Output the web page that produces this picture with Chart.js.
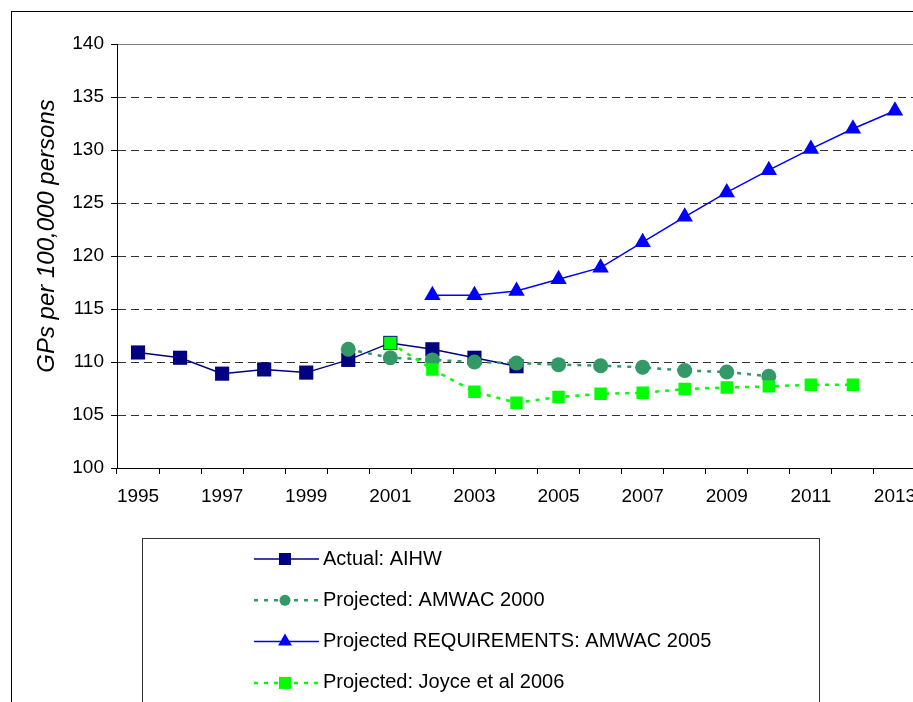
<!DOCTYPE html>
<html>
<head>
<meta charset="utf-8">
<script src="https://cdn.jsdelivr.net/npm/chart.js@4.4.1/dist/chart.umd.min.js"></script>
<style>
    html, body { margin: 0; padding: 0; overflow: hidden; background: #fff; }
    .chart-container { position: relative; width: 940px; height: 702px; }
</style>
</head>
<body>
<div class="chart-container">
    <canvas id="chart" width="940" height="702"></canvas>
</div>
<script>
const years = ['1995', '1996', '1997', '1998', '1999', '2000', '2001', '2002', '2003', '2004',
    '2005', '2006', '2007', '2008', '2009', '2010', '2011', '2012', '2013']

const actual_aihw = [110.9, 110.4, 108.9, 109.3, 109.0, 110.2, 111.8, 111.2, 110.4, 109.6,
    null, null, null, null, null, null, null, null, null]
const amwac_2000 = [null, null, null, null, null, 111.2, 110.4, 110.2, 110.0, 109.9,
    109.75, 109.65, 109.5, 109.2, 109.05, 108.65, null, null, null]
const amwac_2005_requirements = [null, null, null, null, null, null, null, 116.3, 116.3, 116.7,
    117.8, 118.9, 121.3, 123.7, 126.0, 128.1, 130.1, 132.0, 133.7]
const joyce_2006 = [null, null, null, null, null, null, 111.8, 109.3, 107.2, 106.15,
    106.7, 107.0, 107.1, 107.45, 107.6, 107.7, 107.85, 107.85, null]

const y_title = 'GPs per 100,000 persons'

const FONT = '"Liberation Sans", Arial, sans-serif'

// small marker drawer for the legend (same shapes as chart points)
function draw_marker(ctx, style, x, y, r, color) {
    ctx.fillStyle = color
    ctx.beginPath()
    if (style === 'rect') {
        const s = r * Math.SQRT1_2
        ctx.rect(x - s, y - s, 2 * s, 2 * s)
    } else if (style === 'circle') {
        ctx.arc(x, y, r, 0, Math.PI * 2)
    } else if (style === 'triangle') {
        ctx.moveTo(x, y - r)
        ctx.lineTo(x + r * Math.sin(Math.PI / 3), y + r / 2)
        ctx.lineTo(x - r * Math.sin(Math.PI / 3), y + r / 2)
        ctx.closePath()
    }
    ctx.fill()
}

const frame_and_legend = {
    id: 'frame_and_legend',
    beforeDraw(chart) {
        const ctx = chart.ctx
        ctx.save()
        ctx.strokeStyle = '#000'
        ctx.lineWidth = 1
        ctx.strokeRect(11.5, 11.5, 1000, 1000) // outer frame, runs off the page

        // y axis title, sits a bit above the plot middle like the original
        ctx.translate(47, 236)
        ctx.rotate(-Math.PI / 2)
        ctx.fillStyle = '#000'
        ctx.font = 'italic 24px ' + FONT
        ctx.textAlign = 'center'
        ctx.textBaseline = 'middle'
        ctx.fillText(y_title, 0, 0)
        ctx.restore()
    },
    afterDraw(chart) {
        const ctx = chart.ctx
        ctx.save()
        ctx.strokeStyle = '#333'
        ctx.lineWidth = 1
        ctx.strokeRect(142.5, 538.5, 677, 300)

        chart.data.datasets.forEach((ds, i) => {
            const y = 559 + i * 41.3
            ctx.beginPath()
            ctx.setLineDash(ds.borderDash || [])
            ctx.strokeStyle = ds.borderColor
            ctx.lineWidth = ds.borderWidth
            ctx.moveTo(254, y)
            ctx.lineTo(319, y)
            ctx.stroke()
            ctx.setLineDash([])
            draw_marker(ctx, ds.pointStyle, 285, y, ds.legendRadius, ds.pointBackgroundColor)

            ctx.fillStyle = '#000'
            ctx.font = '20px ' + FONT
            ctx.textBaseline = 'middle'
            ctx.textAlign = 'left'
            ctx.fillText(ds.label, 323, y)
        })
        ctx.restore()
    }
}

new Chart(document.getElementById('chart'), {
    type: 'line',
    data: {
        labels: years,
        datasets: [
            {
                label: 'Actual: AIHW',
                data: actual_aihw,
                borderColor: '#000080',
                borderWidth: 1.5,
                pointStyle: 'rect',
                pointRadius: 10,
                pointBorderWidth: 0,
                pointBackgroundColor: '#000080',
                legendRadius: 8.5,
                order: 4,
            },
            {
                label: 'Projected: AMWAC 2000',
                data: amwac_2000,
                borderColor: '#339966',
                borderWidth: 2.5,
                borderDash: [4, 6],
                pointStyle: 'circle',
                pointRadius: 7.5,
                pointBorderWidth: 0,
                pointBackgroundColor: '#339966',
                legendRadius: 5.5,
                order: 3,
            },
            {
                label: 'Projected REQUIREMENTS: AMWAC 2005',
                data: amwac_2005_requirements,
                borderColor: '#0000FF',
                borderWidth: 1.5,
                pointStyle: 'triangle',
                pointRadius: 9.5,
                pointBorderWidth: 0,
                pointBackgroundColor: '#0000FF',
                legendRadius: 8,
                order: 2,
            },
            {
                label: 'Projected: Joyce et al 2006',
                data: joyce_2006,
                borderColor: '#00FF00',
                borderWidth: 2.5,
                borderDash: [4, 6],
                pointStyle: 'rect',
                pointRadius: 8.8,
                pointBorderWidth: 0,
                pointBackgroundColor: '#00FF00',
                legendRadius: 8.5,
                order: 1,
            },
        ]
    },
    options: {
        responsive: false,
        animation: false,
        events: [],
        layout: { padding: { left: 0, top: 44, right: 24, bottom: 0 } },
        plugins: {
            legend: { display: false },
            tooltip: { enabled: false },
        },
        scales: {
            x: {
                offset: true,
                grid: {
                    offset: true,
                    drawOnChartArea: false,
                    drawTicks: true,
                    tickLength: 6,
                    tickColor: '#000',
                },
                border: { display: true, color: '#000', width: 1 },
                ticks: {
                    autoSkip: false,
                    maxRotation: 0,
                    minRotation: 0,
                    padding: 11,
                    color: '#000',
                    font: { family: FONT, size: 19 },
                    callback: (value, index) => index % 2 === 0 ? years[index] : '',
                },
                afterFit: scale => { scale.height = 234 },
            },
            y: {
                min: 100,
                max: 140,
                grid: {
                    drawTicks: true,
                    tickLength: 6,
                    tickColor: '#000',
                    lineWidth: 1,
                    color: ctx => {
                        if (!ctx.tick) return '#000'
                        if (ctx.tick.value === 140) return '#808080'
                        if (ctx.tick.value === 100) return 'rgba(0,0,0,0)'
                        return '#333'
                    },
                },
                border: {
                    display: true,
                    color: '#000',
                    width: 1,
                    dash: ctx => (ctx.tick && ctx.tick.value !== 140) ? [8, 5] : [],
                },
                ticks: {
                    stepSize: 5,
                    padding: 7,
                    color: '#000',
                    font: { family: FONT, size: 19 },
                },
                afterFit: scale => { scale.width = 117 },
            },
        },
    },
    plugins: [frame_and_legend],
})
</script>
</body>
</html>
